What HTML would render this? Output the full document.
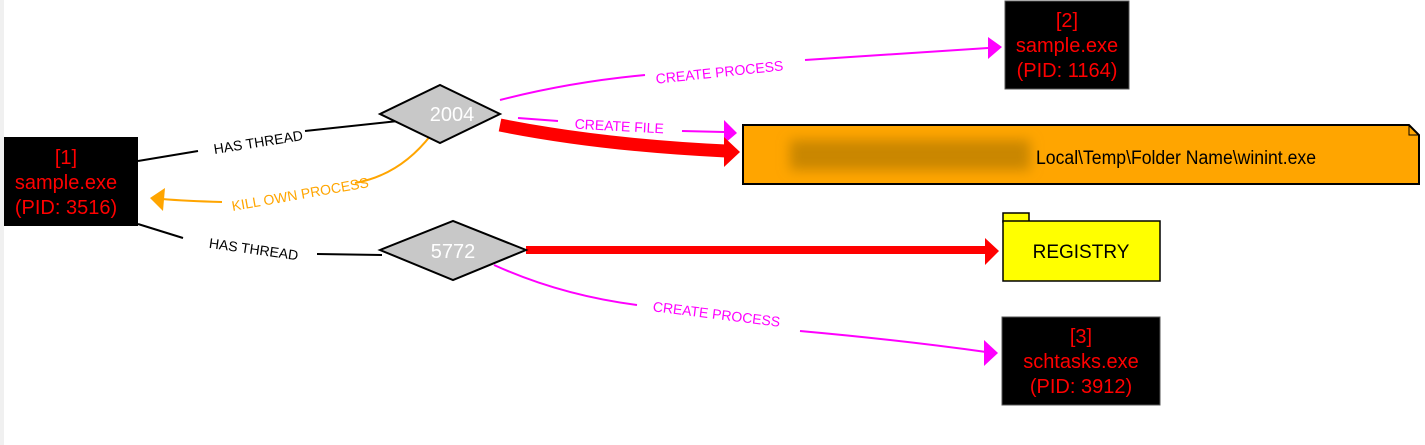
<!DOCTYPE html>
<html><head><meta charset="utf-8"><style>
html,body{margin:0;padding:0;background:#fff;}
svg{display:block;font-family:"Liberation Sans",Arial,sans-serif;}
</style></head><body>
<svg width="1425" height="445" viewBox="0 0 1425 445" xmlns="http://www.w3.org/2000/svg">
<defs>
<filter id="bl" x="-10%" y="-50%" width="120%" height="200%"><feGaussianBlur stdDeviation="6"/></filter>
</defs>
<rect x="0" y="0" width="4" height="445" fill="#f0f0f0"/>

<path d="M138,161 L198,151" stroke="#000" stroke-width="2" fill="none"/>
<path d="M305,131 L398,121" stroke="#000" stroke-width="2" fill="none"/>
<text x="259" y="147" font-size="14" text-anchor="middle" transform="rotate(-9 259 147)">HAS THREAD</text>
<path d="M138,224 L183,238" stroke="#000" stroke-width="2" fill="none"/>
<path d="M317,254 L382,255" stroke="#000" stroke-width="2" fill="none"/>
<text x="253" y="254" font-size="14" text-anchor="middle" transform="rotate(8 253 254)">HAS THREAD</text>

<path d="M431,135 Q400,175 355,183" stroke="#ffa500" stroke-width="2" fill="none"/>
<path d="M222,202 Q185,201 162,199" stroke="#ffa500" stroke-width="2" fill="none"/>
<polygon points="150,198 165,188 163,211" fill="#ffa500"/>
<text x="301" y="199" font-size="14" fill="#ffa500" text-anchor="middle" transform="rotate(-10 301 199)">KILL OWN PROCESS</text>

<path d="M500,100 Q570,82 645,75" stroke="#f0f" stroke-width="2" fill="none"/>
<path d="M805,60 L988,48" stroke="#f0f" stroke-width="2" fill="none"/>
<polygon points="1002,47 988,37 988,59" fill="#f0f"/>
<text x="720" y="77" font-size="14" fill="#f0f" text-anchor="middle" transform="rotate(-6 720 77)">CREATE PROCESS</text>

<path d="M518,118 L558,121" stroke="#f0f" stroke-width="2" fill="none"/>
<path d="M682,131 L724,132" stroke="#f0f" stroke-width="2" fill="none"/>
<polygon points="737,133 724,120 724,144" fill="#f0f"/>
<text x="619" y="131" font-size="14" fill="#f0f" text-anchor="middle" transform="rotate(3 619 131)">CREATE FILE</text>

<path d="M500,125 Q600,145 726,151" stroke="#f00" stroke-width="13" fill="none"/>
<polygon points="740,152 724,137 724,167" fill="#f00"/>

<path d="M526,250 L985,250" stroke="#f00" stroke-width="8" fill="none"/>
<polygon points="999,251 985,238 985,265" fill="#f00"/>

<path d="M494,265 Q560,295 637,305" stroke="#f0f" stroke-width="2" fill="none"/>
<path d="M800,331 Q900,340 986,352" stroke="#f0f" stroke-width="2" fill="none"/>
<polygon points="998,353 984,340 984,366" fill="#f0f"/>
<text x="716" y="319" font-size="14" fill="#f0f" text-anchor="middle" transform="rotate(7 716 319)">CREATE PROCESS</text>

<polygon points="380,114 440,85 500,114 440,143" fill="#c8c8c8" stroke="#000" stroke-width="2"/>
<text x="452" y="121" font-size="20" fill="#fff" text-anchor="middle">2004</text>
<polygon points="380,250 453,221 526,250 453,280" fill="#c8c8c8" stroke="#000" stroke-width="2"/>
<text x="453" y="258" font-size="20" fill="#fff" text-anchor="middle">5772</text>

<rect x="4" y="137" width="134" height="89" fill="#000"/>
<g fill="#f00" font-size="20" text-anchor="middle">
<text x="66" y="164">[1]</text>
<text x="66" y="189">sample.exe</text>
<text x="66" y="214">(PID: 3516)</text>
</g>

<rect x="1005" y="1" width="124" height="88" fill="#000" stroke="#555" stroke-width="1"/>
<g fill="#f00" font-size="20" text-anchor="middle">
<text x="1067" y="27">[2]</text>
<text x="1067" y="52">sample.exe</text>
<text x="1067" y="77">(PID: 1164)</text>
</g>

<rect x="1002" y="317" width="158" height="88" fill="#000" stroke="#555" stroke-width="1"/>
<g fill="#f00" font-size="20" text-anchor="middle">
<text x="1081" y="343">[3]</text>
<text x="1081" y="368">schtasks.exe</text>
<text x="1081" y="393">(PID: 3912)</text>
</g>

<polygon points="743,125 1409,125 1419,135 1419,184 743,184" fill="#ffa500" stroke="#000" stroke-width="2"/>
<polyline points="1409,125 1409,135 1419,135" fill="none" stroke="#000" stroke-width="1"/>
<rect x="790" y="140" width="240" height="30" fill="#c98600" filter="url(#bl)"/>
<text x="1036" y="164" font-size="19" fill="#000" textLength="280" lengthAdjust="spacingAndGlyphs">Local\Temp\Folder Name\winint.exe</text>

<rect x="1003" y="213" width="26" height="9" fill="#ff0" stroke="#000" stroke-width="1.5"/>
<rect x="1003" y="221" width="157" height="60" fill="#ff0" stroke="#000" stroke-width="1.5"/>
<text x="1081" y="258" font-size="19" text-anchor="middle" fill="#000">REGISTRY</text>
</svg>
</body></html>
